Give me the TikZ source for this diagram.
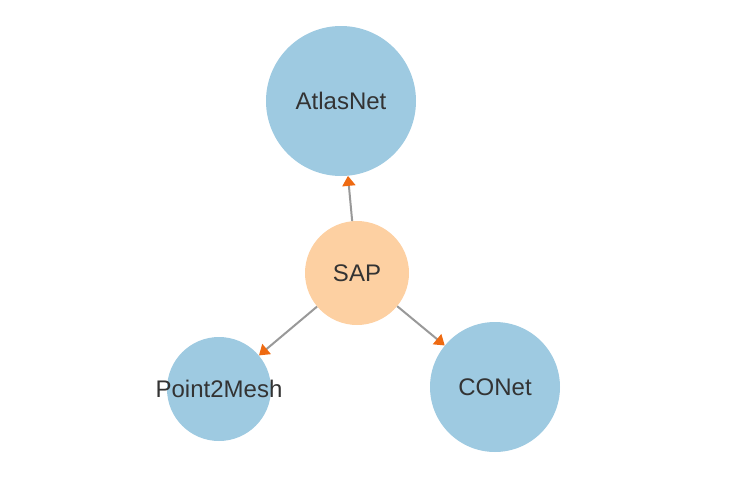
\documentclass[tikz,border=0pt]{standalone}
\usepackage{fontspec}
\setmainfont{Liberation Sans}
\usetikzlibrary{arrows.meta}
\definecolor{nblue}{HTML}{9ECAE1}
\definecolor{norange}{HTML}{FDD0A2}
\definecolor{tiporange}{HTML}{EE6A12}
\definecolor{edgegray}{HTML}{999999}
\newcommand{\zw}[1]{\makebox[0pt]{#1}}
\begin{document}
\begin{tikzpicture}[x=1pt,y=-1pt,
  circ/.style={circle,inner sep=0pt,text=black!80,font=\fontsize{24}{24}\selectfont},
  bluenode/.style={circ,fill=nblue},
  srcnode/.style={circ,fill=norange},
  link/.style={draw=edgegray,line width=2pt,-{Triangle[width=13pt,length=10pt,color=tiporange,fill=tiporange]}}]
\path[use as bounding box] (0,0) rectangle (742,482);
\node[bluenode,minimum size=150pt] (atlas) at (341,101) {\zw{AtlasNet}};
\node[srcnode,minimum size=104pt] (sap) at (357,273) {\zw{SAP}};
\node[bluenode,minimum size=104pt] (p2m) at (219,389) {\zw{Point2Mesh}};
\node[bluenode,minimum size=130pt] (conet) at (495,387) {\zw{CONet}};
\draw[link] (sap) -- (atlas);
\draw[link] (sap) -- (p2m);
\draw[link] (sap) -- (conet);
\end{tikzpicture}
\end{document}
